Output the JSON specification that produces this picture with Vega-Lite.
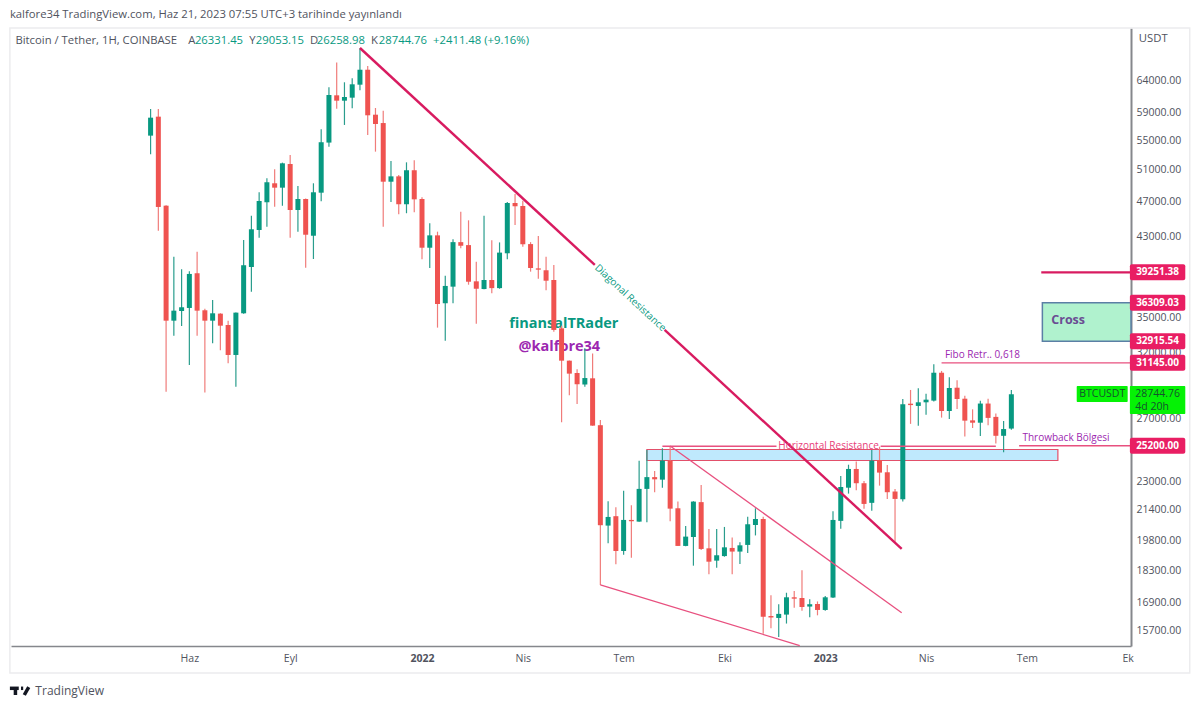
{"$schema":"https://vega.github.io/schema/vega-lite/v6.json","width":1120,"height":618,"autosize":{"type":"none"},"padding":{"left":11,"top":28,"right":69,"bottom":62},"background":"white","config":{"view":{"stroke":null},"font":"Open Sans"},
"datasets":{
"candles":[
{"date":"2021-05-03","open":55659,"high":59582,"low":53074,"close":58275},
{"date":"2021-05-10","open":58425,"high":59582,"low":43660,"close":46387},
{"date":"2021-05-17","open":46540,"high":46600,"low":28935,"close":34690},
{"date":"2021-05-24","open":34690,"high":40850,"low":33390,"close":35590},
{"date":"2021-05-31","open":35560,"high":39560,"low":34220,"close":35900},
{"date":"2021-06-07","open":35835,"high":39360,"low":30980,"close":39090},
{"date":"2021-06-14","open":39160,"high":41380,"low":33390,"close":35590},
{"date":"2021-06-21","open":35625,"high":35770,"low":28865,"close":34690},
{"date":"2021-06-28","open":34690,"high":36575,"low":32750,"close":35350},
{"date":"2021-07-05","open":35320,"high":35350,"low":32165,"close":34250},
{"date":"2021-07-12","open":34310,"high":34690,"low":31120,"close":31780},
{"date":"2021-07-19","open":31780,"high":35420,"low":29310,"close":35410},
{"date":"2021-07-26","open":35350,"high":42634,"low":35300,"close":39970},
{"date":"2021-08-02","open":39790,"high":45370,"low":37360,"close":43815},
{"date":"2021-08-09","open":43737,"high":48160,"low":42890,"close":47100},
{"date":"2021-08-16","open":46950,"high":49920,"low":44110,"close":49400},
{"date":"2021-08-23","open":49280,"high":51070,"low":46420,"close":48730},
{"date":"2021-08-30","open":48730,"high":51950,"low":46530,"close":51860},
{"date":"2021-09-06","open":51770,"high":52975,"low":42890,"close":46030},
{"date":"2021-09-13","open":46030,"high":48940,"low":43550,"close":47340},
{"date":"2021-09-20","open":47340,"high":47400,"low":39720,"close":43210},
{"date":"2021-09-27","open":43100,"high":49280,"low":40610,"close":48160},
{"date":"2021-10-04","open":48110,"high":56570,"low":47060,"close":54730},
{"date":"2021-10-11","open":54680,"high":62990,"low":54100,"close":61750},
{"date":"2021-10-18","open":61700,"high":67110,"low":59630,"close":60860},
{"date":"2021-10-25","open":60860,"high":63790,"low":57200,"close":61440},
{"date":"2021-11-01","open":61330,"high":64440,"low":59690,"close":63460},
{"date":"2021-11-08","open":63400,"high":69570,"low":62490,"close":65870},
{"date":"2021-11-15","open":65870,"high":66500,"low":55750,"close":58630},
{"date":"2021-11-22","open":58720,"high":59730,"low":53430,"close":57340},
{"date":"2021-11-29","open":57480,"high":59320,"low":44110,"close":49480},
{"date":"2021-12-06","open":49480,"high":52170,"low":46980,"close":50160},
{"date":"2021-12-13","open":50160,"high":50330,"low":45540,"close":46710},
{"date":"2021-12-20","open":46710,"high":51990,"low":45650,"close":50950},
{"date":"2021-12-27","open":50950,"high":52260,"low":45770,"close":47300},
{"date":"2022-01-03","open":47340,"high":47550,"low":40580,"close":41800},
{"date":"2022-01-10","open":41800,"high":44490,"low":39690,"close":43140},
{"date":"2022-01-17","open":43140,"high":43550,"low":34080,"close":36200},
{"date":"2022-01-24","open":36270,"high":38920,"low":32960,"close":37910},
{"date":"2022-01-31","open":37840,"high":42710,"low":36270,"close":42400},
{"date":"2022-02-07","open":42400,"high":45830,"low":41740,"close":42010},
{"date":"2022-02-14","open":42080,"high":44830,"low":38030,"close":38320},
{"date":"2022-02-21","open":38360,"high":40330,"low":34430,"close":37640},
{"date":"2022-02-28","open":37610,"high":45370,"low":37590,"close":38490},
{"date":"2022-03-07","open":38490,"high":42600,"low":37210,"close":37700},
{"date":"2022-03-14","open":37700,"high":42370,"low":37640,"close":41280},
{"date":"2022-03-21","open":41210,"high":46980,"low":40580,"close":46860},
{"date":"2022-03-28","open":46860,"high":47960,"low":44300,"close":46470},
{"date":"2022-04-04","open":46510,"high":47140,"low":41900,"close":42160},
{"date":"2022-04-11","open":42190,"high":42400,"low":39320,"close":39690},
{"date":"2022-04-18","open":39650,"high":43060,"low":38620,"close":39520},
{"date":"2022-04-25","open":39460,"high":40850,"low":37490,"close":38420},
{"date":"2022-05-02","open":38490,"high":40000,"low":33730,"close":33880},
{"date":"2022-05-09","open":34020,"high":34250,"low":26760,"close":31320},
{"date":"2022-05-16","open":31320,"high":31330,"low":28670,"close":30300},
{"date":"2022-05-23","open":30350,"high":30640,"low":28040,"close":29490},
{"date":"2022-05-30","open":29470,"high":32330,"low":29310,"close":29960},
{"date":"2022-06-06","open":29940,"high":31890,"low":26530,"close":26530},
{"date":"2022-06-13","open":26560,"high":26917,"low":17660,"close":20570},
{"date":"2022-06-20","open":20550,"high":21870,"low":19640,"close":21010},
{"date":"2022-06-27","open":21050,"high":21540,"low":18620,"close":19260},
{"date":"2022-07-04","open":19260,"high":22470,"low":19080,"close":20850},
{"date":"2022-07-11","open":20850,"high":21640,"low":18930,"close":20780},
{"date":"2022-07-18","open":20760,"high":24260,"low":20750,"close":22570},
{"date":"2022-07-25","open":22570,"high":24931,"low":20730,"close":23260},
{"date":"2022-08-01","open":23260,"high":23630,"low":22380,"close":23130},
{"date":"2022-08-08","open":23110,"high":25040,"low":22640,"close":24260},
{"date":"2022-08-15","open":24260,"high":25190,"low":20780,"close":21460},
{"date":"2022-08-22","open":21480,"high":21850,"low":19510,"close":19510},
{"date":"2022-08-29","open":19510,"high":20530,"low":19500,"close":19980},
{"date":"2022-09-05","open":19960,"high":21870,"low":18550,"close":21850},
{"date":"2022-09-12","open":21820,"high":22800,"low":19310,"close":19360},
{"date":"2022-09-19","open":19390,"high":20370,"low":18150,"close":18740},
{"date":"2022-09-26","open":18790,"high":20370,"low":18450,"close":19050},
{"date":"2022-10-03","open":19010,"high":20480,"low":18980,"close":19440},
{"date":"2022-10-10","open":19410,"high":19940,"low":18150,"close":19230},
{"date":"2022-10-17","open":19230,"high":19700,"low":18630,"close":19540},
{"date":"2022-10-24","open":19560,"high":21020,"low":19160,"close":20620},
{"date":"2022-10-31","open":20580,"high":21480,"low":20040,"close":20900},
{"date":"2022-11-07","open":20900,"high":21020,"low":15590,"close":16280},
{"date":"2022-11-14","open":16310,"high":17200,"low":15810,"close":16250},
{"date":"2022-11-21","open":16230,"high":16810,"low":15460,"close":16400},
{"date":"2022-11-28","open":16370,"high":17310,"low":16000,"close":17110},
{"date":"2022-12-05","open":17110,"high":17390,"low":16660,"close":17050},
{"date":"2022-12-12","open":17080,"high":18340,"low":16530,"close":16690},
{"date":"2022-12-19","open":16710,"high":17020,"low":16260,"close":16810},
{"date":"2022-12-26","open":16820,"high":16930,"low":16340,"close":16565},
{"date":"2023-01-02","open":16565,"high":17170,"low":16530,"close":17110},
{"date":"2023-01-09","open":17100,"high":21320,"low":17080,"close":20849},
{"date":"2023-01-16","open":20800,"high":23330,"low":20390,"close":22680},
{"date":"2023-01-23","open":22640,"high":24010,"low":22300,"close":23750},
{"date":"2023-01-30","open":23750,"high":24200,"low":22490,"close":22900},
{"date":"2023-02-06","open":22900,"high":23030,"low":21460,"close":21720},
{"date":"2023-02-13","open":21780,"high":24930,"low":21350,"close":24260},
{"date":"2023-02-20","open":24300,"high":25140,"low":22760,"close":23530},
{"date":"2023-02-27","open":23550,"high":23990,"low":22000,"close":22380},
{"date":"2023-03-06","open":22420,"high":22570,"low":19720,"close":22000},
{"date":"2023-03-13","open":21980,"high":28390,"low":21850,"close":28020},
{"date":"2023-03-20","open":28060,"high":29062,"low":26650,"close":27960},
{"date":"2023-03-27","open":27900,"high":29190,"low":26520,"close":28160},
{"date":"2023-04-03","open":28160,"high":28790,"low":27270,"close":28350},
{"date":"2023-04-10","open":28280,"high":31030,"low":28210,"close":30370},
{"date":"2023-04-17","open":30370,"high":30510,"low":27080,"close":27540},
{"date":"2023-04-24","open":27540,"high":30020,"low":26990,"close":29210},
{"date":"2023-05-01","open":29230,"high":29790,"low":27690,"close":28400},
{"date":"2023-05-08","open":28420,"high":28630,"low":25800,"close":26870},
{"date":"2023-05-15","open":26890,"high":27660,"low":26370,"close":26730},
{"date":"2023-05-22","open":26730,"high":28280,"low":25840,"close":28070},
{"date":"2023-05-29","open":28070,"high":28420,"low":26560,"close":27060},
{"date":"2023-06-05","open":27130,"high":27360,"low":25340,"close":25850},
{"date":"2023-06-12","open":25850,"high":26850,"low":24780,"close":26300},
{"date":"2023-06-19","open":26331.45,"high":29053.15,"low":26258.98,"close":28744.76}],
"lines":[
{"name":"Diagonal Resistance","part":"a","weight":"thick","date":"2021-11-08","date2":"2022-06-08","price":69630,"price2":40000},
{"name":"Diagonal Resistance","part":"b","weight":"thick","date":"2022-08-10","date2":"2023-03-12","price":33876,"price2":19360},
{"name":"39251 level","weight":"thick","date":"2023-07-16","date2":"2023-10-05","price":39251.38,"price2":39251.38},
{"name":"Channel upper","weight":"thin","date":"2022-08-15","date2":"2023-03-12","price":25190,"price2":16450},
{"name":"Channel lower","weight":"thin","date":"2022-06-13","date2":"2022-12-10","price":17660,"price2":15125},
{"name":"Horizontal Resistance","weight":"thin","date":"2022-08-08","date2":"2022-11-19","price":25170,"price2":25170},
{"name":"Horizontal Resistance","weight":"thin","date":"2023-02-21","date2":"2023-06-05","price":25170,"price2":25170},
{"name":"Fibo","weight":"thin","date":"2023-04-17","date2":"2023-10-05","price":31145,"price2":31145},
{"name":"Throwback","weight":"thin","date":"2023-06-26","date2":"2023-10-05","price":25200,"price2":25200}],
"texts":[
{"text":"kalfore34 TradingView.com, Haz 21, 2023 07:55 UTC+3 tarihinde yayınlandı","kind":"muted","date":"2020-12-27","price":75750},
{"text":"Bitcoin / Tether, 1H, COINBASE","kind":"muted","date":"2021-01-01","price":70890},
{"text":"A","kind":"muted","date":"2021-06-06","price":70890},
{"text":"Y","kind":"muted","date":"2021-07-31","price":70890},
{"text":"D","kind":"muted","date":"2021-09-24","price":70890},
{"text":"K","kind":"muted","date":"2021-11-18","price":70890},
{"text":"26331.45","kind":"up","date":"2021-06-12","price":70890},
{"text":"29053.15","kind":"up","date":"2021-08-06","price":70890},
{"text":"26258.98","kind":"up","date":"2021-09-30","price":70890},
{"text":"28744.76","kind":"up","date":"2021-11-25","price":70890},
{"text":"+2411.48 (+9.16%)","kind":"up","date":"2022-01-13","price":70890},
{"text":"USDT","kind":"muted","date":"2023-10-12","price":71250},
{"text":"Fibo Retr.. 0,618","kind":"purple","date":"2023-04-20","price":31780},
{"text":"Throwback Bölgesi","kind":"purple","date":"2023-06-29","price":25680}],
"logo":[
{"part":"bar","date":"2020-12-27","date2":"2021-01-04","price":13560,"price2":13560},
{"part":"stem","date":"2021-01-01","date2":"2021-01-01","price":13600,"price2":13330},
{"part":"dot","date":"2021-01-06","date2":"2021-01-08","price":13560,"price2":13560},
{"part":"slash","date":"2021-01-13","date2":"2021-01-09","price":13600,"price2":13330}]
},
"encoding":{
"x":{"field":"date","type":"temporal","title":null,"scale":{"type":"utc","domain":["2020-12-28","2023-10-05"],"padding":0},"axis":{"orient":"bottom","grid":false,"ticks":false,"title":null,"values":[{"year":2021,"month":6,"date":7,"utc":true},{"year":2021,"month":9,"date":6,"utc":true},{"year":2022,"month":1,"date":3,"utc":true},{"year":2022,"month":4,"date":4,"utc":true},{"year":2022,"month":7,"date":4,"utc":true},{"year":2022,"month":10,"date":3,"utc":true},{"year":2023,"month":1,"date":2,"utc":true},{"year":2023,"month":4,"date":3,"utc":true},{"year":2023,"month":7,"date":3,"utc":true},{"year":2023,"month":10,"date":2,"utc":true}],"labelExpr":"utcmonth(datum.value)==0 ? utcFormat(datum.value,'%Y') : utcmonth(datum.value)==5 ? 'Haz' : utcmonth(datum.value)==8 ? 'Eyl' : utcmonth(datum.value)==3 ? 'Nis' : utcmonth(datum.value)==6 ? 'Tem' : utcmonth(datum.value)==9 && utcyear(datum.value)==2023 ? 'Ek' : 'Eki'","labelFontWeight":{"condition":{"test":"utcmonth(datum.value)==0","value":"bold"},"value":"normal"},"labelColor":"#50535e","labelFontSize":10.5,"labelPadding":7,"labelFlush":false,"labelOverlap":false,"domainColor":"#85878c","domainWidth":1.6}},
"y":{"field":"price","type":"quantitative","title":null,"scale":{"type":"log","domain":[15108,73280],"nice":false,"zero":false},"axis":{"orient":"right","grid":false,"ticks":false,"title":null,"values":[64000,59000,55000,51000,47000,43000,35000,32000,27000,23000,21400,19800,18300,16900,15700],"format":".2f","labelColor":"#50535e","labelFontSize":10.5,"labelPadding":5,"labelOverlap":false,"labelFlush":false,"domainColor":"#85878c","domainWidth":2}}
},
"layer":[
{"data":{"values":[{"date":"2020-12-27","date2":"2023-11-27","price":73280,"price2":14100}]},"mark":{"type":"rect","fillOpacity":0,"stroke":"#ececee","strokeWidth":1.5},"encoding":{"x2":{"field":"date2"},"y2":{"field":"price2"}}},
{"data":{"values":[{"name":"Resistance zone","date":"2022-07-25","date2":"2023-07-31","price":24960,"price2":24270}]},"mark":{"type":"rect","fill":"#bfe9fd","stroke":"#e2506a","strokeWidth":1.2},"encoding":{"x2":{"field":"date2"},"y2":{"field":"price2"}}},
{"data":{"values":[{"name":"Cross","date":"2023-07-17","date2":"2023-10-05","price":36309.03,"price2":32915.54}]},"mark":{"type":"rect","fill":"#b0f2ce","stroke":"#5b7fa5","strokeWidth":1.5},"encoding":{"x2":{"field":"date2"},"y2":{"field":"price2"}}},
{"data":{"values":[{"text":"Cross","date":"2023-07-25","price":34750}]},"mark":{"type":"text","align":"left","baseline":"middle","fontSize":12.5,"fontWeight":"bold","color":"#6a4c93"},"encoding":{"text":{"field":"text"}}},
{"data":{"values":[{"text":"finansalTRader","date":"2022-05-11","price":34400}]},"mark":{"type":"text","align":"center","baseline":"middle","fontSize":14.5,"fontWeight":"bold","color":"#089981"},"encoding":{"text":{"field":"text"}}},
{"data":{"values":[{"text":"@kalfore34","date":"2022-05-07","price":32440}]},"mark":{"type":"text","align":"center","baseline":"middle","fontSize":14.5,"fontWeight":"bold","color":"#9c27b0"},"encoding":{"text":{"field":"text"}}},
{"data":{"name":"candles"},"mark":{"type":"rule","strokeWidth":1.2},"encoding":{"y":{"field":"low","type":"quantitative","title":null,"scale":{"type":"log","domain":[15108,73280],"nice":false,"zero":false},"axis":{"orient":"right","grid":false,"ticks":false,"title":null,"values":[64000,59000,55000,51000,47000,43000,35000,32000,27000,23000,21400,19800,18300,16900,15700],"format":".2f","labelColor":"#50535e","labelFontSize":10.5,"labelPadding":5,"labelOverlap":false,"labelFlush":false,"domainColor":"#85878c","domainWidth":2}},"y2":{"field":"high"},"color":{"condition":{"test":"datum.close>=datum.open","value":"#2a9d8d"},"value":"#f07c7a"}}},
{"data":{"name":"candles"},"mark":{"type":"bar","width":5},"encoding":{"y":{"field":"open","type":"quantitative","title":null,"scale":{"type":"log","domain":[15108,73280],"nice":false,"zero":false},"axis":{"orient":"right","grid":false,"ticks":false,"title":null,"values":[64000,59000,55000,51000,47000,43000,35000,32000,27000,23000,21400,19800,18300,16900,15700],"format":".2f","labelColor":"#50535e","labelFontSize":10.5,"labelPadding":5,"labelOverlap":false,"labelFlush":false,"domainColor":"#85878c","domainWidth":2}},"y2":{"field":"close"},"color":{"condition":{"test":"datum.close>=datum.open","value":"#089981"},"value":"#ef5350"}}},
{"data":{"name":"lines"},"transform":[{"filter":"datum.weight=='thick'"}],"mark":{"type":"rule","strokeWidth":2.4,"color":"#d81b60"},"encoding":{"x2":{"field":"date2"},"y2":{"field":"price2"}}},
{"data":{"name":"lines"},"transform":[{"filter":"datum.weight=='thin'"}],"mark":{"type":"rule","strokeWidth":1.3,"color":"#e8507f"},"encoding":{"x2":{"field":"date2"},"y2":{"field":"price2"}}},
{"data":{"values":[{"text":"Diagonal Resistance","date":"2022-07-10","price":36760}]},"mark":{"type":"text","align":"center","baseline":"middle","fontSize":10,"angle":43,"color":"#089981"},"encoding":{"text":{"field":"text"}}},
{"data":{"values":[{"text":"Horizontal Resistance","date":"2023-01-05","price":25190}]},"mark":{"type":"text","align":"center","baseline":"middle","fontSize":10,"color":"#e8407a"},"encoding":{"text":{"field":"text"}}},
{"data":{"name":"texts"},"transform":[{"filter":"datum.kind=='muted'"}],"mark":{"type":"text","align":"left","baseline":"middle","fontSize":11.3,"color":"#50535e"},"encoding":{"text":{"field":"text"}}},
{"data":{"name":"texts"},"transform":[{"filter":"datum.kind=='up'"}],"mark":{"type":"text","align":"left","baseline":"middle","fontSize":11.3,"color":"#089981"},"encoding":{"text":{"field":"text"}}},
{"data":{"name":"texts"},"transform":[{"filter":"datum.kind=='purple'"}],"mark":{"type":"text","align":"left","baseline":"middle","fontSize":10,"color":"#9c27b0"},"encoding":{"text":{"field":"text"}}},
{"data":{"values":[{"level":"39251.38","date":"2023-10-04","date2":"2023-11-23","price":38457,"price2":40062},{"level":"36309.03","date":"2023-10-04","date2":"2023-11-23","price":35574,"price2":37059},{"level":"32915.54","date":"2023-10-04","date2":"2023-11-23","price":32250,"price2":33595},{"level":"31145.00","date":"2023-10-04","date2":"2023-11-23","price":30515,"price2":31788},{"level":"25200.00","date":"2023-10-04","date2":"2023-11-23","price":24690,"price2":25720}]},"mark":{"type":"rect","fill":"#e91e63","cornerRadius":2},"encoding":{"x2":{"field":"date2"},"y2":{"field":"price2"}}},
{"data":{"values":[{"value":"39251.38","date":"2023-10-29","price":39251.38},{"value":"36309.03","date":"2023-10-29","price":36309.03},{"value":"32915.54","date":"2023-10-29","price":32915.54},{"value":"31145.00","date":"2023-10-29","price":31145},{"value":"25200.00","date":"2023-10-29","price":25200}]},"mark":{"type":"text","align":"center","baseline":"middle","fontSize":10,"fontWeight":"bold","color":"white"},"encoding":{"text":{"field":"value"}}},
{"data":{"values":[{"date":"2023-08-17","date2":"2023-10-02","price":29360,"price2":28190},{"date":"2023-10-04","date2":"2023-11-23","price":29360,"price2":27330}]},"mark":{"type":"rect","fill":"#05f205","cornerRadius":1},"encoding":{"x2":{"field":"date2"},"y2":{"field":"price2"}}},
{"data":{"values":[{"text":"BTCUSDT","date":"2023-09-09","price":28744},{"text":"28744.76","date":"2023-10-29","price":28744},{"text":"4d 20h","date":"2023-10-24","price":27830}]},"mark":{"type":"text","align":"center","baseline":"middle","fontSize":10.5,"color":"#14532d"},"encoding":{"text":{"field":"text"}}},
{"data":{"name":"logo"},"mark":{"type":"rule","strokeWidth":3.5,"color":"#131722"},"encoding":{"x2":{"field":"date2"},"y2":{"field":"price2"}}},
{"data":{"values":[{"text":"TradingView","date":"2021-01-19","price":13460}]},"mark":{"type":"text","align":"left","baseline":"middle","fontSize":12,"color":"#50535e"},"encoding":{"text":{"field":"text"}}}
]}
